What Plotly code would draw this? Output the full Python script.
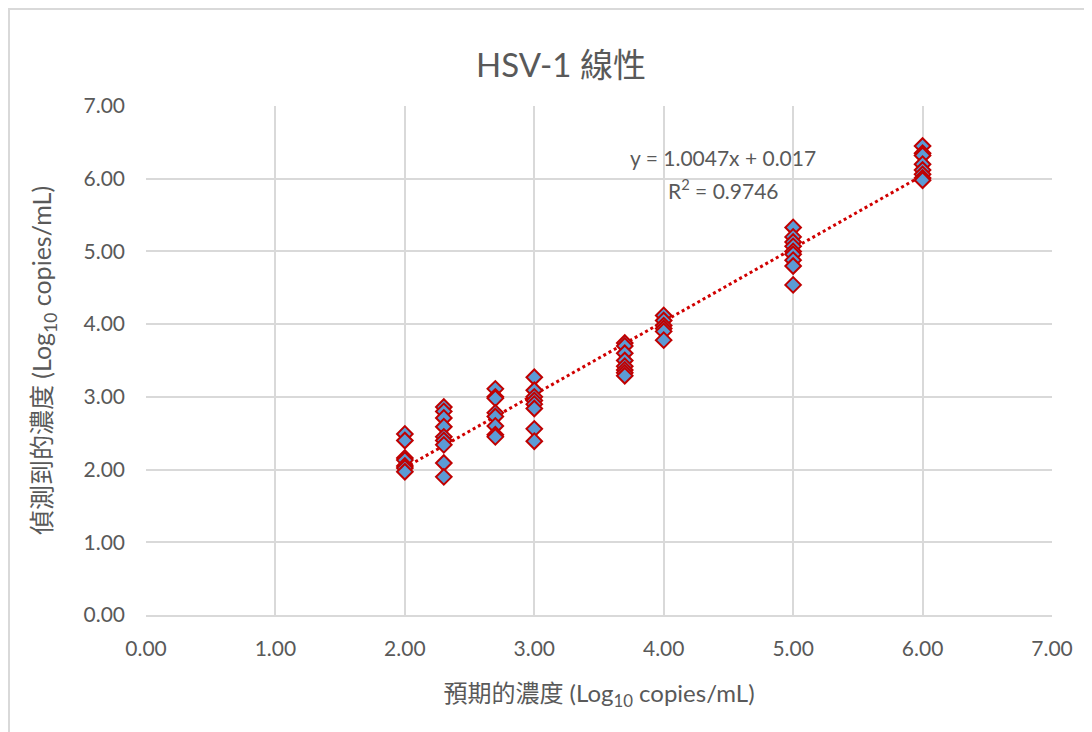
import plotly.graph_objects as go

# Expected concentration (log10 copies/mL) per sample group
x_groups = [2.0, 2.301, 2.699, 3.0, 3.699, 4.0, 5.0, 6.0]
# Measured values for each group
y_2_0 = [2.49, 2.40, 2.16, 2.13, 2.05, 2.02, 1.97]
y_2_3 = [2.86, 2.80, 2.71, 2.59, 2.45, 2.40, 2.34, 2.09, 1.90]
y_2_7 = [3.11, 3.00, 2.98, 2.78, 2.73, 2.60, 2.48, 2.45]
y_3_0 = [3.27, 3.09, 3.00, 2.95, 2.90, 2.84, 2.56, 2.39]
y_3_7 = [3.74, 3.70, 3.60, 3.50, 3.42, 3.37, 3.33, 3.29]
y_4_0 = [4.12, 4.05, 3.98, 3.94, 3.90, 3.78]
y_5_0 = [5.33, 5.20, 5.13, 5.07, 5.00, 4.96, 4.88, 4.80, 4.54]
y_6_0 = [6.45, 6.35, 6.32, 6.20, 6.12, 6.06, 6.01, 5.98]

groups = [y_2_0, y_2_3, y_2_7, y_3_0, y_3_7, y_4_0, y_5_0, y_6_0]
xs, ys = [], []
for gx, gy in zip(x_groups, groups):
    xs += [gx] * len(gy)
    ys += gy

# Linear trend (as reported)
slope = 1.0047
intercept = 0.017
r2 = 0.9746
trend_x = [min(x_groups), max(x_groups)]
trend_y = [slope * v + intercept for v in trend_x]

tick_vals = [0, 1, 2, 3, 4, 5, 6, 7]
tick_text = ["0.00", "1.00", "2.00", "3.00", "4.00", "5.00", "6.00", "7.00"]

FONT = "Lato, Noto Sans CJK TC, sans-serif"
GREY = "#595959"
GRID = "#D9D9D9"

W, H = 1092, 732
ML, MR, MT, MB = 138, 48, 98, 125
PW, PH = W - ML - MR, H - MT - MB

fig = go.Figure()
fig.add_trace(go.Scatter(
    x=trend_x, y=trend_y, mode="lines",
    line=dict(color="#D00000", width=3, dash="dot"),
    showlegend=False, hoverinfo="skip"))
fig.add_trace(go.Scatter(
    x=xs, y=ys, mode="markers",
    marker=dict(symbol="diamond", size=12, color="#5B9BD5",
                line=dict(color="#C00000", width=2)),
    showlegend=False))

fig.update_layout(
    width=W, height=H,
    paper_bgcolor="white", plot_bgcolor="white",
    margin=dict(l=ML, r=MR, t=MT, b=MB, autoexpand=False),
    font=dict(family=FONT, color=GREY, size=21),
    title=dict(text="HSV-1 線性", x=(553 - ML) / PW, xanchor="center",
               xref="paper", y=1 - 57 / H, yanchor="middle",
               font=dict(size=33, color=GREY, family=FONT)),
    xaxis=dict(range=[0, 7], tickvals=tick_vals, ticktext=tick_text,
               showgrid=True, gridcolor=GRID, gridwidth=1.5,
               zeroline=False, showline=True, linecolor=GRID, linewidth=1.5,
               ticks="", ticklabelstandoff=14, automargin=False,
               tickfont=dict(size=21, color=GREY),
               title=dict(text="預期的濃度 (Log<sub>10</sub> copies/mL)",
                          font=dict(size=24, color=GREY), standoff=26)),
    yaxis=dict(range=[0, 7], tickvals=tick_vals, ticktext=tick_text,
               showgrid=True, gridcolor=GRID, gridwidth=1.5,
               zeroline=False, showline=False,
               ticks="", ticklabelstandoff=20, automargin=False,
               tickfont=dict(size=21, color=GREY),
               title=dict(text="偵測到的濃度 (Log<sub>10</sub> copies/mL)",
                          font=dict(size=25, color=GREY), standoff=24)),
    annotations=[
        dict(text=f"y = {slope}x + {intercept}", x=4.46, y=6.29,
             xref="x", yref="y", showarrow=False,
             font=dict(size=21, color=GREY)),
        dict(text=f"R<sup>2</sup> = {r2}", x=4.46, y=5.86,
             xref="x", yref="y", showarrow=False,
             font=dict(size=21, color=GREY)),
    ],
    shapes=[dict(type="rect", xref="paper", yref="paper",
                 x0=-(ML - 1) / PW, x1=1.1, y0=-0.3, y1=1 + (MT - 1) / PH,
                 line=dict(color="#D9D9D9", width=2), layer="below")],
)

fig.write_html("out.html")
